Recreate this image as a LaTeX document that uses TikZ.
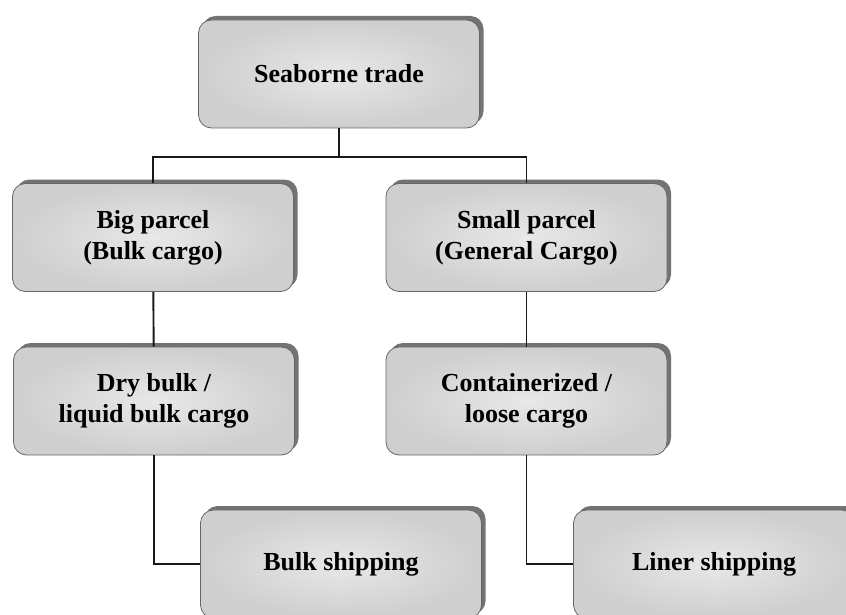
\documentclass[tikz,border=0pt]{standalone}
\usepackage{fontspec}
\setmainfont{Liberation Serif}
\usepackage{xcolor}
\usepackage{tikz}
\usetikzlibrary{arrows.meta,positioning,calc,shadows}

\tikzset{
  cargobox/.style={draw=black!60, line width=0.8pt, rounded corners=13pt,
    inner color=black!9, outer color=black!19,
    minimum width=281pt, minimum height=108pt, align=center,
    font=\fontsize{26}{31}\selectfont\bfseries,
    general shadow={shadow xshift=4pt, shadow yshift=4pt, fill=black!55}},
  link/.style={line width=1.9pt, black!90}
}

\begin{document}
\begin{tikzpicture}[x=1pt, y=-1pt]
    % Frame of the page
    \clip (0,0) rectangle (846,615);

    % Boxes
    \node[cargobox] (trade) at (339, 74) {Seaborne trade};
    \node[cargobox] (bigp) at (153, 237.5) {Big parcel\\(Bulk cargo)};
    \node[cargobox] (smallp) at (526.5, 237.5) {Small parcel\\(General Cargo)};
    \node[cargobox] (dry) at (154, 401) {Dry bulk /\\liquid bulk cargo};
    \node[cargobox] (cont) at (526.5, 401) {Containerized /\\loose cargo};
    \node[cargobox] (bulkship) at (341, 564) {Bulk shipping};
    \node[cargobox] (liner) at (714, 564) {Liner shipping};

    % Split point below the top box
    \coordinate (split) at (339, 157);

    % Links
    \draw[link] (trade.south) -- (split);
    \draw[link] (bigp.north) -- (bigp.north |- split) -- (smallp.north |- split) -- (smallp.north);
    \draw[link] (bigp) -- (dry);
    \draw[link] (smallp) -- (cont);
    \draw[link] (dry.south) |- (bulkship.west);
    \draw[link] (cont.south) |- (liner.west);
\end{tikzpicture}
\end{document}
